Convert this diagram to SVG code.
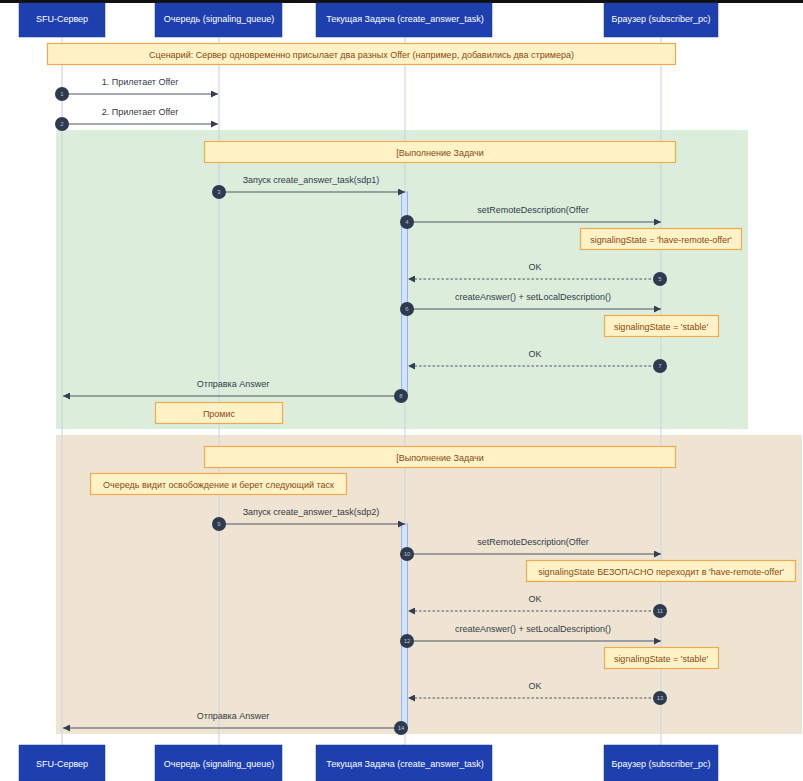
<svg xmlns="http://www.w3.org/2000/svg" width="803" height="781" viewBox="0 0 803 781">
<defs>
<style>
.actor{fill:#1e40af;stroke:#1a3899;stroke-width:0.5}
.atext{font-family:"Liberation Sans",Arial,sans-serif;font-size:9px;fill:#ffffff;text-anchor:middle}
.life{stroke:#cdd7e6;stroke-width:1.2}
.note{fill:#fff2c6;stroke:#f0a94b;stroke-width:1.2}
.ntext{font-family:"Liberation Sans",Arial,sans-serif;font-size:9px;fill:#8a4a14;text-anchor:middle}
.msg{stroke:#4a5568;stroke-width:1.1;fill:none}
.dash{stroke-dasharray:2.5,2}
.mtext{font-family:"Liberation Sans",Arial,sans-serif;font-size:9px;fill:#333b48;text-anchor:middle}
.num{fill:#2d3a4f}
.ntxt{font-family:"Liberation Sans",Arial,sans-serif;font-size:6px;fill:#b8c0cc;text-anchor:middle}
.act{fill:#d4e3fb;stroke:#8fb6f2;stroke-width:1}
</style>
<marker id="arr" viewBox="0 0 10 10" refX="10" refY="5" markerWidth="7" markerHeight="7" orient="auto-start-reverse" markerUnits="userSpaceOnUse">
<path d="M0,0 L10,5 L0,10 z" fill="#333f50"/>
</marker>
</defs>
<rect x="0" y="0" width="803" height="781" fill="#ffffff"/>
<rect x="0" y="0" width="803" height="3" fill="#111111"/>

<g id="fragments">
<rect x="56" y="130" width="692" height="299" fill="#dceedb"/>
<rect x="56" y="435" width="746" height="299" fill="#efe4d1"/>
</g>

<g id="lifelines">
<line class="life" x1="62" y1="37" x2="62" y2="745"/>
<line class="life" x1="219" y1="37" x2="219" y2="745"/>
<line class="life" x1="405" y1="37" x2="405" y2="745"/>
<line class="life" x1="661" y1="37" x2="661" y2="745"/>
</g>

<g id="actor-sfu-top"><rect class="actor" x="19" y="3" width="86" height="34"/><text class="atext" x="62" y="22">SFU-Сервер</text></g>
<g id="actor-queue-top"><rect class="actor" x="155" y="3" width="127" height="34"/><text class="atext" x="219" y="22">Очередь (signaling_queue)</text></g>
<g id="actor-task-top"><rect class="actor" x="316" y="3" width="176" height="34"/><text class="atext" x="405" y="22">Текущая Задача (create_answer_task)</text></g>
<g id="actor-browser-top"><rect class="actor" x="604" y="3" width="114" height="34"/><text class="atext" x="661" y="22">Браузер (subscriber_pc)</text></g>

<g id="actor-sfu-bottom"><rect class="actor" x="19" y="745" width="86" height="36"/><text class="atext" x="62" y="767">SFU-Сервер</text></g>
<g id="actor-queue-bottom"><rect class="actor" x="155" y="745" width="127" height="36"/><text class="atext" x="219" y="767">Очередь (signaling_queue)</text></g>
<g id="actor-task-bottom"><rect class="actor" x="316" y="745" width="176" height="36"/><text class="atext" x="405" y="767">Текущая Задача (create_answer_task)</text></g>
<g id="actor-browser-bottom"><rect class="actor" x="604" y="745" width="114" height="36"/><text class="atext" x="661" y="767">Браузер (subscriber_pc)</text></g>

<g id="activations">
<rect class="act" x="401.5" y="192" width="6" height="204"/>
<rect class="act" x="401.5" y="524" width="6" height="204"/>
</g>

<g id="note-scenario"><rect class="note" x="47.5" y="43.5" width="628" height="21"/><text class="ntext" x="361.5" y="57.5">Сценарий: Сервер одновременно присылает два разных Offer (например, добавились два стримера)</text></g>
<g id="note-exec1"><rect class="note" x="204.5" y="141.5" width="471" height="21"/><text class="ntext" x="440" y="155.5">[Выполнение Задачи</text></g>
<g id="note-hro1"><rect class="note" x="580.5" y="228.5" width="161" height="21"/><text class="ntext" x="661" y="242.5">signalingState = 'have-remote-offer'</text></g>
<g id="note-stable1"><rect class="note" x="604.5" y="315.5" width="114" height="21"/><text class="ntext" x="661" y="329.5">signalingState = 'stable'</text></g>
<g id="note-promise"><rect class="note" x="155.5" y="402.5" width="127" height="21"/><text class="ntext" x="219" y="416.5">Промис</text></g>
<g id="note-exec2"><rect class="note" x="204.5" y="446.5" width="471" height="21"/><text class="ntext" x="440" y="460.5">[Выполнение Задачи</text></g>
<g id="note-queue"><rect class="note" x="90.5" y="473.5" width="256" height="21"/><text class="ntext" x="218.5" y="487.5">Очередь видит освобождение и берет следующий таск</text></g>
<g id="note-hro2"><rect class="note" x="526.5" y="560.5" width="269" height="21"/><text class="ntext" x="661" y="574.5">signalingState БЕЗОПАСНО переходит в 'have-remote-offer'</text></g>
<g id="note-stable2"><rect class="note" x="604.5" y="647.5" width="114" height="21"/><text class="ntext" x="661" y="661.5">signalingState = 'stable'</text></g>

<g id="connectors">
<line class="msg" x1="62" y1="94" x2="218" y2="94" marker-end="url(#arr)"/>
<text class="mtext" x="140" y="85">1. Прилетает Offer</text>
<line class="msg" x1="62" y1="124" x2="218" y2="124" marker-end="url(#arr)"/>
<text class="mtext" x="140" y="115">2. Прилетает Offer</text>

<line class="msg" x1="219" y1="192" x2="405" y2="192" marker-end="url(#arr)"/>
<text class="mtext" x="311" y="183">Запуск create_answer_task(sdp1)</text>
<line class="msg" x1="407" y1="222" x2="661" y2="222" marker-end="url(#arr)"/>
<text class="mtext" x="533" y="213">setRemoteDescription(Offer</text>
<line class="msg dash" x1="660" y1="279" x2="408" y2="279" marker-end="url(#arr)"/>
<text class="mtext" x="535" y="270">OK</text>
<line class="msg" x1="407" y1="309" x2="661" y2="309" marker-end="url(#arr)"/>
<text class="mtext" x="533" y="300">createAnswer() + setLocalDescription()</text>
<line class="msg dash" x1="660" y1="366" x2="408" y2="366" marker-end="url(#arr)"/>
<text class="mtext" x="535" y="357">OK</text>
<line class="msg" x1="401" y1="396" x2="63" y2="396" marker-end="url(#arr)"/>
<text class="mtext" x="233" y="387">Отправка Answer</text>

<line class="msg" x1="219" y1="524" x2="405" y2="524" marker-end="url(#arr)"/>
<text class="mtext" x="311" y="515">Запуск create_answer_task(sdp2)</text>
<line class="msg" x1="407" y1="554" x2="661" y2="554" marker-end="url(#arr)"/>
<text class="mtext" x="533" y="545">setRemoteDescription(Offer</text>
<line class="msg dash" x1="660" y1="611" x2="408" y2="611" marker-end="url(#arr)"/>
<text class="mtext" x="535" y="602">OK</text>
<line class="msg" x1="407" y1="641" x2="661" y2="641" marker-end="url(#arr)"/>
<text class="mtext" x="533" y="632">createAnswer() + setLocalDescription()</text>
<line class="msg dash" x1="660" y1="698" x2="408" y2="698" marker-end="url(#arr)"/>
<text class="mtext" x="535" y="689">OK</text>
<line class="msg" x1="401" y1="728" x2="63" y2="728" marker-end="url(#arr)"/>
<text class="mtext" x="233" y="719">Отправка Answer</text>
</g>

<g id="numbers">
<circle class="num" cx="62" cy="94" r="7"/><text class="ntxt" x="62" y="96">1</text>
<circle class="num" cx="62" cy="124" r="7"/><text class="ntxt" x="62" y="126">2</text>
<circle class="num" cx="219" cy="192" r="7"/><text class="ntxt" x="219" y="194">3</text>
<circle class="num" cx="407" cy="222" r="7"/><text class="ntxt" x="407" y="224">4</text>
<circle class="num" cx="660" cy="279" r="7"/><text class="ntxt" x="660" y="281">5</text>
<circle class="num" cx="407" cy="309" r="7"/><text class="ntxt" x="407" y="311">6</text>
<circle class="num" cx="660" cy="366" r="7"/><text class="ntxt" x="660" y="368">7</text>
<circle class="num" cx="401" cy="396" r="7"/><text class="ntxt" x="401" y="398">8</text>
<circle class="num" cx="219" cy="524" r="7"/><text class="ntxt" x="219" y="526">9</text>
<circle class="num" cx="407" cy="554" r="7"/><text class="ntxt" x="407" y="556">10</text>
<circle class="num" cx="660" cy="611" r="7"/><text class="ntxt" x="660" y="613">11</text>
<circle class="num" cx="407" cy="641" r="7"/><text class="ntxt" x="407" y="643">12</text>
<circle class="num" cx="660" cy="698" r="7"/><text class="ntxt" x="660" y="700">13</text>
<circle class="num" cx="401" cy="728" r="7"/><text class="ntxt" x="401" y="730">14</text>
</g>
</svg>
